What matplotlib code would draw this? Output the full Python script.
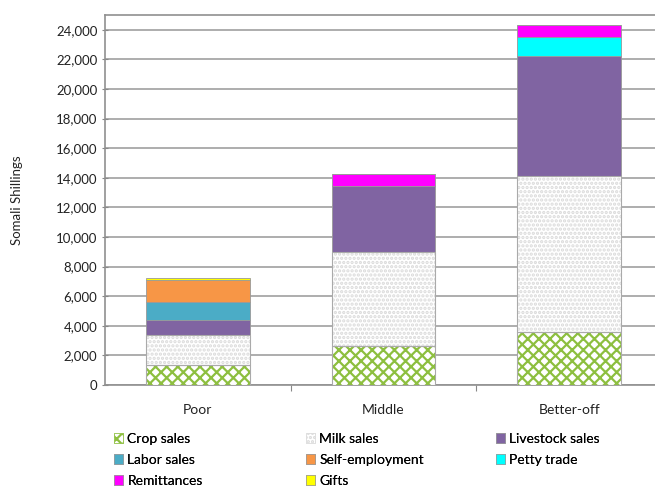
import matplotlib.pyplot as plt
import numpy as np
from matplotlib.patches import Patch

plt.rcParams['font.family'] = ['Lato', 'DejaVu Sans']
plt.rcParams['hatch.linewidth'] = 1.6

groups = ['Poor', 'Middle', 'Better-off']
series = ['Crop sales', 'Milk sales', 'Livestock sales', 'Labor sales',
          'Self-employment', 'Petty trade', 'Remittances', 'Gifts']
crop = [1370, 2630, 3570]
milk = [1980, 6360, 10550]
livestock = [1020, 4450, 8140]
labor = [1240, 0, 0]
self_emp = [1470, 0, 0]
petty = [0, 0, 1240]
remit = [0, 810, 830]
gifts = [180, 0, 0]
values = [crop, milk, livestock, labor, self_emp, petty, remit, gifts]
yticks = list(range(0, 24001, 2000))

colors = ['white', 'white', '#8064A2', '#4BACC6', '#F79646', '#00FFFF', '#FF00FF', '#FFFF00']
hatches = ['xxx', '....', None, None, None, None, None, None]
hatch_cols = ['#8DBF3F', '#DADADA', None, None, None, None, None, None]

fig = plt.figure(figsize=(6.55, 4.87), dpi=100)
ax = fig.add_axes([105/655, 1 - 385/487, 557/655, 370/487])

x = np.arange(len(groups))
w = 0.56
bottom = np.zeros(len(groups))
handles = []
for name, vals, c, h, hc in zip(series, values, colors, hatches, hatch_cols):
    vals = np.array(vals, dtype=float)
    if h:
        ax.bar(x, vals, w, bottom=bottom, color=c, edgecolor=hc, hatch=h, linewidth=0, zorder=3)
        ax.bar(x, vals, w, bottom=bottom, fill=False, edgecolor='#AAAAAA', linewidth=0.8, zorder=4)
        handles.append(Patch(facecolor=c, edgecolor=hc, hatch=h, linewidth=0.5, label=name))
    else:
        ax.bar(x, vals, w, bottom=bottom, color=c, edgecolor='#999999', linewidth=0.6, zorder=3)
        handles.append(Patch(facecolor=c, edgecolor='#999999', linewidth=0.5, label=name))
    bottom += vals

ax.set_xlim(-0.5, 2.5)
ax.set_ylim(0, 25000)
ax.set_yticks(yticks)
ax.set_yticklabels(['{:,}'.format(v) for v in yticks], fontsize=9.5, color='#222222')
ax.yaxis.grid(True, color='#A0A0A0', linewidth=1.2, zorder=0)
ax.set_axisbelow(True)
ax.set_xticks([0.5, 1.5])
ax.set_xticklabels([])
ax.set_xticks(x, minor=True)
ax.set_xticklabels(groups, minor=True, fontsize=10, color='#222222')
ax.tick_params(axis='x', which='minor', length=0, pad=14)
ax.tick_params(axis='x', which='major', length=4, color='#888888')
ax.tick_params(axis='y', length=5, direction='inout', color='#888888', pad=3)
for s in ['left', 'bottom', 'top']:
    ax.spines[s].set_color('#909090')
    ax.spines[s].set_linewidth(1.2)
ax.spines['right'].set_visible(False)
ax.set_ylabel('Somali Shillings', fontsize=9.5, color='#222222', labelpad=24)

# legend: three columns placed separately
cols = [[0, 3, 6], [1, 4, 7], [2, 5]]
col_x = [108, 300, 490]
for idx, cx in zip(cols, col_x):
    leg = fig.legend([handles[i] for i in idx], [series[i] for i in idx],
                     ncol=1, loc='upper left', bbox_to_anchor=(cx/655, 1 - 427/487),
                     frameon=False, fontsize=10, handlelength=0.7, handleheight=0.7,
                     handletextpad=0.3, labelspacing=0.65, borderaxespad=0)
    fig.add_artist(leg)

fig.savefig('out.png', dpi=100)
